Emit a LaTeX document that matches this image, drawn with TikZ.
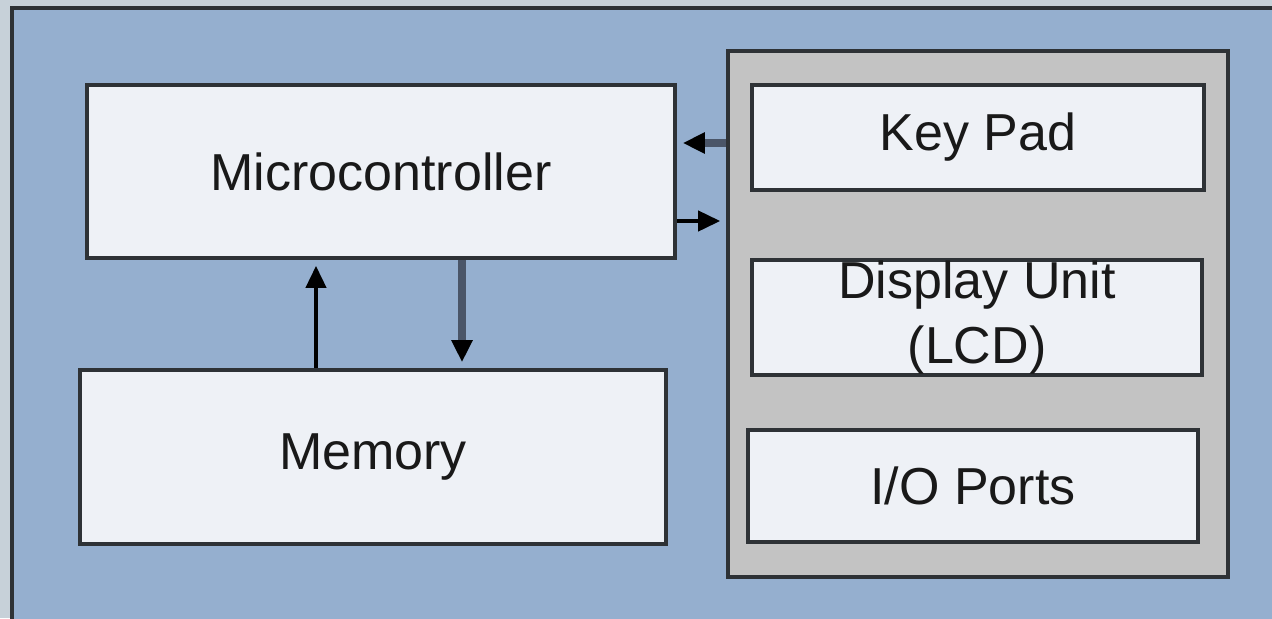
\documentclass[tikz,border=0pt]{standalone}
\usepackage{fontspec}
\setmainfont{Liberation Sans}
\usetikzlibrary{arrows.meta}
\definecolor{pagebg}{HTML}{C7D1D9}
\definecolor{framebg}{HTML}{95AFCF}
\definecolor{boxbg}{HTML}{EEF1F6}
\definecolor{panelbg}{HTML}{C3C3C3}
\definecolor{edge}{HTML}{2E3236}
\definecolor{thickarrow}{HTML}{4A5568}

\begin{document}
\begin{tikzpicture}[x=0.5pt,y=-0.5pt,
  block/.style={draw=edge,line width=1.8pt,fill=boxbg,text=black!90,
    font=\fontsize{26}{32.5}\selectfont,align=center,inner sep=0pt},
  panel/.style={draw=edge,line width=1.8pt,fill=panelbg,inner sep=0pt},
  arrow/.style={-{Triangle[length=11pt,width=10pt,color=black]},line width=2pt,
    draw=black,shorten >=3pt},
  heavy/.style={arrow,line width=4pt,draw=thickarrow}]
\clip (0,0) rectangle (1272,618);
\fill[pagebg] (0,0) rectangle (1272,618);
\draw[line width=2pt,draw=edge,fill=framebg] (12,8) rectangle (1300,660);
% left side
\node[block,minimum width=294pt,minimum height=86.5pt] (micro) at (381,171.5) {Microcontroller};
\node[block,minimum width=293pt,minimum height=87pt] (memory) at (373,457) {Memory};
% right side
\node[panel,minimum width=250pt,minimum height=263pt] (io) at (978,314) {};
\node[block,minimum width=226pt,minimum height=52.5pt] (keypad) at (978,137.5) {Key Pad};
\node[block,minimum width=225pt,minimum height=57.5pt] (display) at (977,317.5) {Display Unit\\(LCD)};
\node[block,minimum width=225pt,minimum height=56pt] (ports) at (973,486) {I/O Ports};
% connectors
\draw[heavy] ([yshift=14.25pt]io.west |- micro.east) -- ([yshift=14.25pt]micro.east);
\draw[arrow] ([yshift=-24.75pt]micro.east) -- ([yshift=-24.75pt]io.west |- micro.east);
\draw[arrow] ([xshift=-28.5pt]memory.north) -- ([xshift=-28.5pt]memory.north |- micro.south);
\draw[heavy] ([xshift=44.5pt]memory.north |- micro.south) -- ([xshift=44.5pt]memory.north);
\end{tikzpicture}
\end{document}
